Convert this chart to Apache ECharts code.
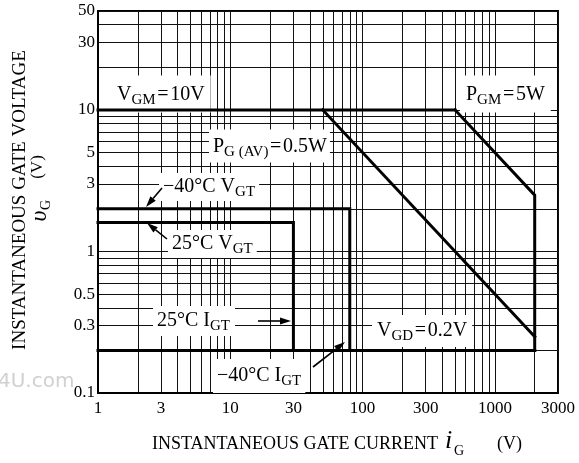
<!DOCTYPE html>
<html><head><meta charset="utf-8">
<script src="https://cdn.jsdelivr.net/npm/echarts@6/dist/echarts.min.js"></script>
<style>html,body{margin:0;padding:0;background:#fff}#c{width:579px;height:463px}</style>
</head><body><div id="c"></div>
<script>
// ---- data ----
const xTickLabels = [1, 3, 10, 30, 100, 300, 1000, 3000];
const yTickLabels = [0.1, 0.3, 0.5, 1, 3, 5, 10, 30, 50];
const xGridValues = [1,2,3,4,5,6,7,8,9,10,20,30,40,50,60,70,80,90,100,200,300,400,500,600,700,800,900,1000,2000,3000];
const yGridValues = [0.1,0.2,0.3,0.4,0.5,0.6,0.7,0.8,0.9,1,2,3,4,5,6,7,8,9,10,20,30,40,50];
// [gate current (mA), gate voltage (V)]
const vgmLine   = [[1, 10], [500, 10]];
const pgmLine   = [[500, 10], [2000, 2.5], [2000, 0.2]];
const pgavLine  = [[50, 10], [2000, 0.25]];
const vgdLine   = [[1, 0.2], [2000, 0.2]];
const vgt40Line = [[1, 2.0], [80, 2.0], [80, 0.2]];
const vgt25Line = [[1, 1.6], [30, 1.6], [30, 0.2]];

const FONT = '"Liberation Serif", "DejaVu Serif", serif';
const chart = echarts.init(document.getElementById('c'), null, {renderer: 'canvas'});

function lineSeries(name, data) {
  return {
    name, type: 'line', data, symbol: 'none', z: 5,
    lineStyle: {color: '#000', width: 3, cap: 'square', join: 'miter'},
    animation: false, silent: true
  };
}

const rich = {
  m: {fontSize: 20, fontFamily: FONT, color: '#000'},
  s: {fontSize: 15, fontFamily: FONT, color: '#000', padding: [11, 0, 0, 0]}
};
function note(x, y, text, pad) {
  return {
    type: 'text', x, y, z: 3,
    style: {
      text, rich, fill: '#000', align: 'left', verticalAlign: 'middle',
      backgroundColor: '#fff', padding: pad || [3, 5, 3, 5]
    }
  };
}
function arrow(x1, y1, x2, y2) {
  const dx = x2 - x1, dy = y2 - y1, L = Math.hypot(dx, dy);
  const ux = dx / L, uy = dy / L, hl = 11, hw = 3.5;
  const bx = x2 - ux * hl, by = y2 - uy * hl;
  return [
    {type: 'line', z: 4, shape: {x1, y1, x2: bx, y2: by}, style: {stroke: '#000', lineWidth: 1.6}},
    {type: 'polygon', z: 4, shape: {points: [[x2, y2], [bx - uy * hw, by + ux * hw], [bx + uy * hw, by - ux * hw]]}, style: {fill: '#000'}}
  ];
}
const EQ = '\u200A=\u200A';

const option = {
  backgroundColor: '#fff',
  animation: false,
  grid: {left: 98, right: 21, top: 11, bottom: 70, show: true, borderColor: '#000', borderWidth: 2},
  xAxis: {
    type: 'log', logBase: 10, min: 1, max: 3000,
    axisLine: {show: true, lineStyle: {color: '#000', width: 2}},
    axisTick: {show: false, customValues: xGridValues},
    axisLabel: {customValues: xTickLabels, color: '#000', fontFamily: FONT, fontSize: 17, margin: 7,
      formatter: v => String(v)},
    splitLine: {show: true, lineStyle: {color: '#111', width: 1}}
  },
  yAxis: {
    type: 'log', logBase: 10, min: 0.1, max: 50,
    axisLine: {show: true, lineStyle: {color: '#000', width: 2}},
    axisTick: {show: false, customValues: yGridValues},
    axisLabel: {customValues: yTickLabels, color: '#000', fontFamily: FONT, fontSize: 17, margin: 3,
      formatter: v => String(v)},
    splitLine: {show: true, lineStyle: {color: '#111', width: 1}}
  },
  series: [
    lineSeries('VGM', vgmLine),
    lineSeries('PGM', pgmLine),
    lineSeries('PGAV', pgavLine),
    lineSeries('VGD', vgdLine),
    lineSeries('VGT -40', vgt40Line),
    lineSeries('VGT 25', vgt25Line)
  ],
  graphic: [
    note(111, 94, '{m|V}{s|GM}{m|' + EQ + '10V}', [6, 6, 5, 6]),
    note(460, 94, '{m|P}{s|GM}{m|' + EQ + '5W}', [6, 6, 5, 6]),
    note(209, 146, '{m|P}{s|G (AV)}{m|' + EQ + '0.5W}', [4, 3, 3, 4]),
    note(159, 187, '{m|−40°C V}{s|GT}', [1, 4, 1, 4]),
    note(168, 244, '{m|25°C V}{s|GT}', [1, 4, 1, 4]),
    note(153, 321, '{m|25°C I}{s|GT}', [2, 5, 2, 4]),
    note(213, 376, '{m|−40°C I}{s|GT}', [4, 4, 4, 4]),
    note(372, 331, '{m|V}{s|GD}{m|' + EQ + '0.2V}', [3, 5, 3, 5]),
    ...arrow(162, 188, 146, 207),
    ...arrow(167, 239, 147, 223),
    ...arrow(258, 321, 291, 321),
    ...arrow(313, 367, 345, 342),
    // axis titles
    {type: 'text', x: 152, y: 444, style: {text: 'INSTANTANEOUS GATE CURRENT', font: '18px ' + FONT, fill: '#000', align: 'left', verticalAlign: 'middle'}},
    {type: 'text', x: 445, y: 441, style: {text: 'i', font: 'italic 26px ' + FONT, fill: '#000', align: 'left', verticalAlign: 'middle'}},
    {type: 'text', x: 454, y: 451, style: {text: 'G', font: '14px ' + FONT, fill: '#000', align: 'left', verticalAlign: 'middle'}},
    {type: 'text', x: 497, y: 444, style: {text: '(V)', font: '18px ' + FONT, fill: '#000', align: 'left', verticalAlign: 'middle'}},
    {type: 'text', x: 20, y: 200, rotation: Math.PI / 2, style: {text: 'INSTANTANEOUS GATE VOLTAGE', font: '19px ' + FONT, fill: '#000', align: 'center', verticalAlign: 'middle'}},
    {type: 'text', x: 38, y: 167, rotation: Math.PI / 2, style: {text: '(V)', font: '17px ' + FONT, fill: '#000', align: 'center', verticalAlign: 'middle'}},
    {type: 'text', x: 40, y: 216, rotation: Math.PI / 2, style: {text: 'υ', font: 'italic 24px ' + FONT, fill: '#000', align: 'center', verticalAlign: 'middle'}},
    {type: 'text', x: 46, y: 205, rotation: Math.PI / 2, style: {text: 'G', font: '14px ' + FONT, fill: '#000', align: 'center', verticalAlign: 'middle'}},
    // watermark fragment
    {type: 'text', x: -2, y: 382, style: {text: '4U.com', font: '20px "DejaVu Sans", sans-serif', fill: '#d0d0d0', align: 'left', verticalAlign: 'middle'}}
  ]
};
chart.setOption(option);
</script>
</body></html>
